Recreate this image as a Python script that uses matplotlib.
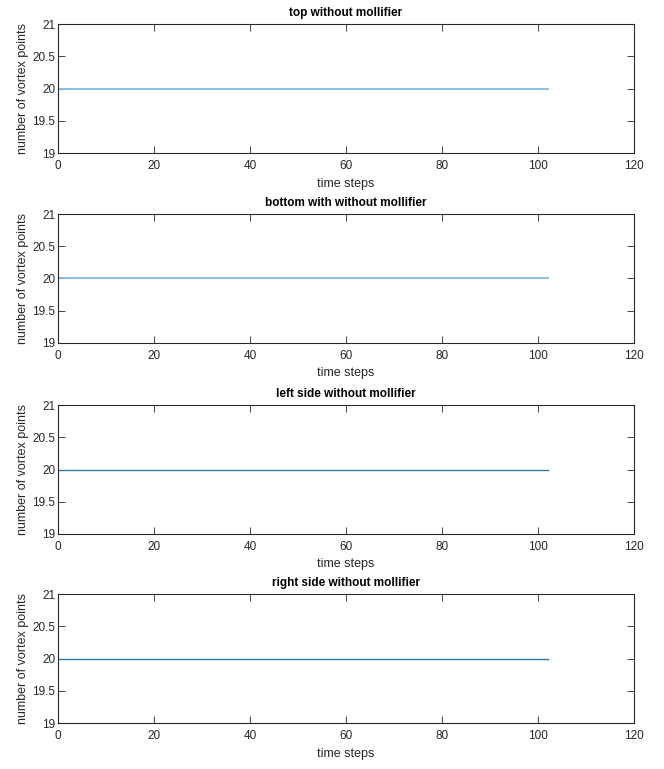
import matplotlib
matplotlib.use("Agg")
import matplotlib.pyplot as plt

plt.rcParams['font.family'] = ['Liberation Sans', 'DejaVu Sans']

titles = ["top without mollifier", "bottom with without mollifier",
          "left side without mollifier", "right side without mollifier"]
time_steps = [0, 102]
vortex_top = [20, 20]
vortex_bottom = [20, 20]
vortex_left = [20, 20]
vortex_right = [20, 20]
series = [vortex_top, vortex_bottom, vortex_left, vortex_right]
colors = ["#80b9e3", "#80b9e3", "#2a7ab8", "#2a7ab8"]
widths = [1.3, 1.3, 1.0, 1.0]
xticks = [0, 20, 40, 60, 80, 100, 120]
yticks = [19, 19.5, 20, 20.5, 21]
yticklabels = ["19", "19.5", "20", "20.5", "21"]

fig = plt.figure(figsize=(6.64, 7.69), dpi=100)
bottoms = [0.801, 0.554, 0.3056, 0.0598]
for i in range(4):
    ax = fig.add_axes([0.0873, bottoms[i], 0.8675, 0.1677])
    ax.plot(time_steps, series[i], color=colors[i], lw=widths[i])
    ax.set_xlim(0, 120)
    ax.set_ylim(19, 21)
    ax.set_xticks(xticks)
    ax.set_yticks(yticks)
    ax.set_yticklabels(yticklabels)
    ax.tick_params(direction='in', top=True, right=True, labelsize=8.5,
                   colors='#262626', length=5, width=0.6)
    ax.tick_params(axis='x', pad=5)
    ax.tick_params(axis='y', pad=2)
    for s in ax.spines.values():
        s.set_color('#262626')
        s.set_linewidth(0.8)
    ax.set_title(titles[i], fontsize=8.5, fontweight='bold', pad=6)
    ax.set_xlabel("time steps", fontsize=9, color='#262626', labelpad=4)
    ax.set_ylabel("number of vortex points", fontsize=9, color='#262626', labelpad=2)

fig.savefig("out.png", dpi=100)
